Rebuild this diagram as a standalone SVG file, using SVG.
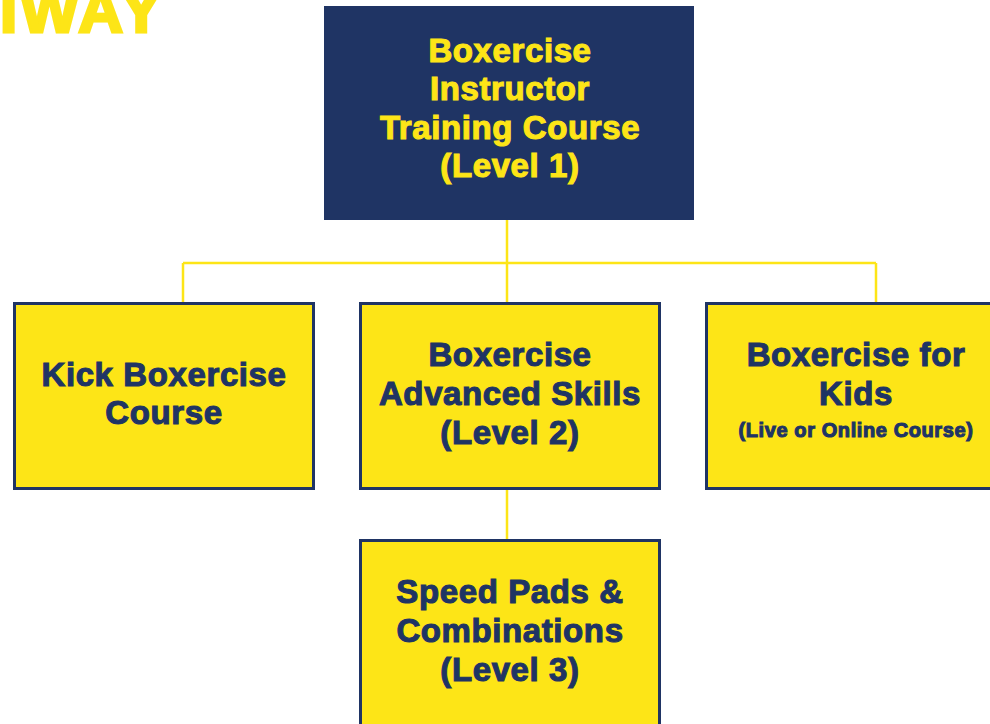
<svg xmlns="http://www.w3.org/2000/svg" width="990" height="724" viewBox="0 0 990 724">
  <style>
    .t { font-family: "Liberation Sans", Arial, sans-serif; font-weight: bold; text-anchor: middle; letter-spacing: 0.6px; }
    .nav { fill: #1f3464; stroke: #1f3464; stroke-width: 1.1; }
    .yel { fill: #fde517; stroke: #fde517; stroke-width: 1.1; }
    .box { fill: #fde517; stroke: #1f3464; stroke-width: 3; }
    .conn { stroke: #fde517; stroke-width: 2.5; fill: none; }
  </style>
  <rect width="990" height="724" fill="#ffffff"/>
  <text x="0" y="32" font-family="Liberation Sans, Arial, sans-serif" font-weight="bold" font-size="62" letter-spacing="3" fill="#fde517" stroke="#fde517" stroke-width="3">IWAY</text>
  <g id="connectors">
    <path class="conn" d="M507 220 V302 M183 263 H876 M183 263 V302 M876 263 V302 M507 489 V540"/>
  </g>
  <g id="n-level1">
    <rect x="324" y="6" width="370" height="214" fill="#1f3464"/>
    <text class="t yel" x="510" font-size="33"><tspan x="510" y="62">Boxercise</tspan><tspan x="510" y="100">Instructor</tspan><tspan x="510" y="139">Training Course</tspan><tspan x="510" y="177">(Level 1)</tspan></text>
  </g>
  <g id="n-kick">
    <rect class="box" x="14.5" y="303.5" width="299" height="185"/>
    <text class="t nav" x="164" font-size="33"><tspan x="164" y="386">Kick Boxercise</tspan><tspan x="164" y="424">Course</tspan></text>
  </g>
  <g id="n-level2">
    <rect class="box" x="360.5" y="303.5" width="299" height="185"/>
    <text class="t nav" x="510" font-size="33"><tspan x="510" y="366">Boxercise</tspan><tspan x="510" y="405">Advanced Skills</tspan><tspan x="510" y="444">(Level 2)</tspan></text>
  </g>
  <g id="n-kids">
    <rect class="box" x="706.5" y="303.5" width="299" height="185"/>
    <text class="t nav" x="856" font-size="33"><tspan x="856" y="366">Boxercise for</tspan><tspan x="856" y="405">Kids</tspan></text>
    <text class="t nav" x="856" y="437" font-size="20" stroke-width="0.6" letter-spacing="0.3">(Live or Online Course)</text>
  </g>
  <g id="n-level3">
    <rect class="box" x="360.5" y="540.5" width="299" height="200"/>
    <text class="t nav" x="510" font-size="33"><tspan x="510" y="603">Speed Pads &amp;</tspan><tspan x="510" y="642">Combinations</tspan><tspan x="510" y="681">(Level 3)</tspan></text>
  </g>
</svg>
